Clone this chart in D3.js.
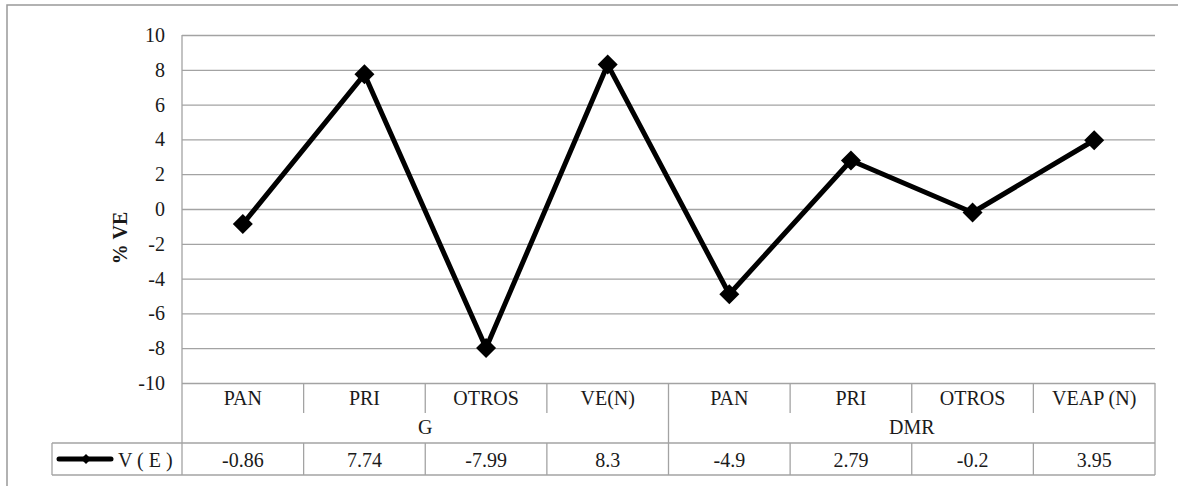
<!DOCTYPE html>
<html>
<head>
<meta charset="utf-8">
<script src="https://cdn.jsdelivr.net/npm/d3@7"></script>
<style>
    body { margin: 0; background: #fff; }
</style>
</head>
<body>
<svg id="chart" width="1178" height="486"></svg>
<script>

// Chart data
const groups = ["G", "DMR"];
const groupOf = ["G", "G", "G", "G", "DMR", "DMR", "DMR", "DMR"];
const categories = ["PAN", "PRI", "OTROS", "VE(N)", "PAN", "PRI", "OTROS", "VEAP (N)"];
const values = [-0.86, 7.74, -7.99, 8.3, -4.9, 2.79, -0.2, 3.95];
const valueLabels = ["-0.86", "7.74", "-7.99", "8.3", "-4.9", "2.79", "-0.2", "3.95"];
const yTicks = [-10, -8, -6, -4, -2, 0, 2, 4, 6, 8, 10];
const seriesName = "V ( E )";

// Layout
const plot = {left: 182, right: 1155, top: 35, bottom: 383};
const rows = {catBottom: 413, dataTop: 443, dataBottom: 475};
const legendLeft = 52;
const gridColour = "#a3a3a3";
const textColour = "#1a1a1a";
const fontSize = 20;

const svg = d3.select("#chart")
    .attr("font-family", "Liberation Serif")
    .attr("font-size", fontSize);

// Outer frame
svg.append("rect")
    .attr("x", 7).attr("y", 5)
    .attr("width", 1180).attr("height", 500)
    .attr("fill", "none")
    .attr("stroke", "#999")
    .attr("stroke-width", 1.5);

// Scales
const x = d3.scaleBand()
    .domain(d3.range(categories.length))
    .range([plot.left, plot.right]);
const y = d3.scaleLinear()
    .domain([-10, 10])
    .range([plot.bottom, plot.top]);
const cx = i => x(i) + x.bandwidth() / 2;

// Gridlines + y labels
const yAxis = svg.append("g")
    .attr("transform", `translate(${plot.left}, 0)`)
    .call(d3.axisLeft(y).tickValues(yTicks).tickSize(-(plot.right - plot.left)).tickPadding(17).tickFormat(d => String(d)))
    .attr("font-family", null)
    .attr("font-size", null);
yAxis.select(".domain").remove();
yAxis.selectAll(".tick line").attr("stroke", gridColour).attr("stroke-width", 1.3);
yAxis.selectAll(".tick text").attr("fill", textColour);

// Y axis title
svg.append("text")
    .attr("transform", `translate(127, 238) rotate(-90)`)
    .attr("text-anchor", "middle")
    .attr("font-weight", "bold")
    .attr("fill", textColour)
    .text("% VE");

// Table lines
const table = svg.append("g")
    .attr("stroke", gridColour)
    .attr("stroke-width", 1.3)
    .attr("fill", "none");

// Left edge of plot down through the table
table.append("line")
    .attr("x1", plot.left).attr("x2", plot.left)
    .attr("y1", plot.top).attr("y2", rows.dataBottom);
// Right edge of table
table.append("line")
    .attr("x1", plot.right).attr("x2", plot.right)
    .attr("y1", plot.bottom).attr("y2", rows.dataBottom);
// Data row
table.append("line")
    .attr("x1", legendLeft).attr("x2", plot.right)
    .attr("y1", rows.dataTop).attr("y2", rows.dataTop);
table.append("line")
    .attr("x1", legendLeft).attr("x2", plot.right)
    .attr("y1", rows.dataBottom).attr("y2", rows.dataBottom);
table.append("line")
    .attr("x1", legendLeft).attr("x2", legendLeft)
    .attr("y1", rows.dataTop).attr("y2", rows.dataBottom);

// Category separators
d3.range(1, categories.length).forEach(i => {
    const xs = x(i);
    const groupBreak = groupOf[i] !== groupOf[i - 1];
    table.append("line")
        .attr("x1", xs).attr("x2", xs)
        .attr("y1", plot.bottom)
        .attr("y2", groupBreak ? rows.dataBottom : rows.catBottom);
    if (!groupBreak)
        table.append("line")
            .attr("x1", xs).attr("x2", xs)
            .attr("y1", rows.dataTop).attr("y2", rows.dataBottom);
});

// Category labels
svg.append("g").selectAll("text")
    .data(categories)
    .join("text")
    .attr("x", (d, i) => cx(i))
    .attr("y", 405)
    .attr("text-anchor", "middle")
    .attr("fill", textColour)
    .text(d => d);

// Group labels
svg.append("g").selectAll("text")
    .data(groups)
    .join("text")
    .attr("x", g => {
        const idx = d3.range(categories.length).filter(i => groupOf[i] === g);
        return (x(idx[0]) + x(idx[idx.length - 1]) + x.bandwidth()) / 2;
    })
    .attr("y", 434)
    .attr("text-anchor", "middle")
    .attr("fill", textColour)
    .text(d => d);

// Data row values
svg.append("g").selectAll("text")
    .data(valueLabels)
    .join("text")
    .attr("x", (d, i) => cx(i))
    .attr("y", 467)
    .attr("text-anchor", "middle")
    .attr("fill", textColour)
    .text(d => d);

// Series line
const line = d3.line()
    .x((d, i) => cx(i))
    .y(d => y(d));
svg.append("path")
    .datum(values)
    .attr("fill", "none")
    .attr("stroke", "#000")
    .attr("stroke-width", 5)
    .attr("stroke-linejoin", "round")
    .attr("d", line);

// Markers
const diamond = d3.symbol().type(d3.symbolSquare).size(200);
svg.append("g").selectAll("path")
    .data(values)
    .join("path")
    .attr("d", diamond)
    .attr("fill", "#000")
    .attr("transform", (d, i) => `translate(${cx(i)}, ${y(d)}) rotate(45)`);

// Legend key in data row
const legendY = (rows.dataTop + rows.dataBottom) / 2;
svg.append("line")
    .attr("x1", 59).attr("x2", 111)
    .attr("y1", legendY).attr("y2", legendY)
    .attr("stroke", "#000")
    .attr("stroke-width", 5)
    .attr("stroke-linecap", "round");
svg.append("path")
    .attr("d", d3.symbol().type(d3.symbolSquare).size(50))
    .attr("fill", "#000")
    .attr("transform", `translate(86, ${legendY}) rotate(45)`);
svg.append("text")
    .attr("x", 118)
    .attr("y", 467)
    .attr("fill", textColour)
    .text(seriesName);

</script>
</body>
</html>
